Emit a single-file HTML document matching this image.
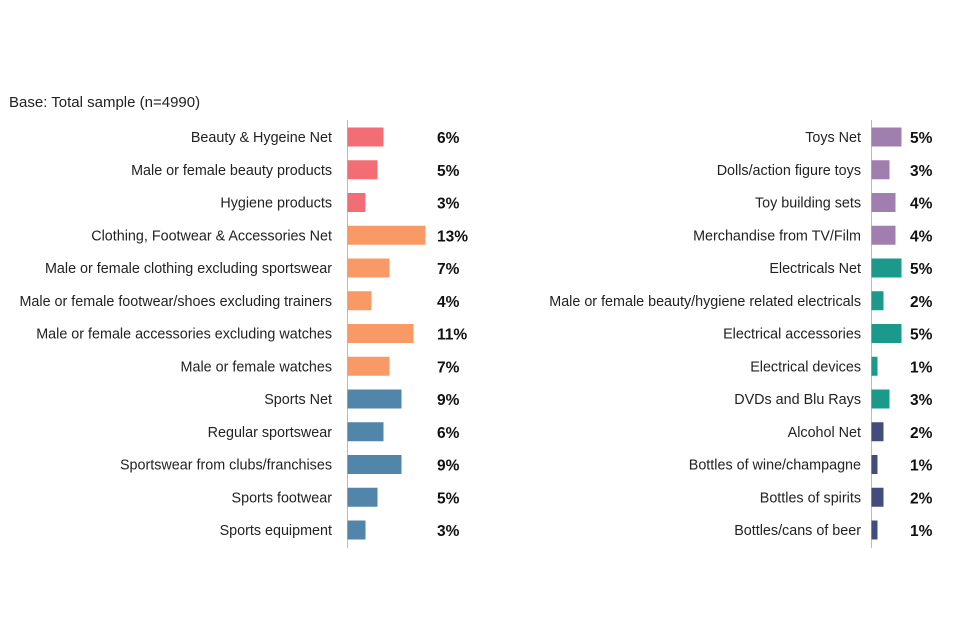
<!DOCTYPE html>
<html><head><meta charset="utf-8"><style>
body{margin:0;background:#fff;font-family:"Liberation Sans",Arial,sans-serif}
svg{display:block}
.lbl{font-size:14.35px;fill:#222}
.val{font-size:15.5px;font-weight:bold;fill:#111}
</style></head><body>
<svg id="chart" width="960" height="640">
<text x="9" y="107" font-size="15" fill="#222">Base: Total sample (n=4990)</text>
<line x1="347.5" y1="120" x2="347.5" y2="548" stroke="#bbb"/>
<line x1="871.5" y1="120" x2="871.5" y2="548" stroke="#bbb"/>
<g id="bars"></g>
</svg>
<script>
const leftCategories=["Beauty & Hygeine Net","Male or female beauty products","Hygiene products","Clothing, Footwear & Accessories Net","Male or female clothing excluding sportswear","Male or female footwear/shoes excluding trainers","Male or female accessories excluding watches","Male or female watches","Sports Net","Regular sportswear","Sportswear from clubs/franchises","Sports footwear","Sports equipment"];
const leftValues=[6,5,3,13,7,4,11,7,9,6,9,5,3];
const leftGroups=["beauty","beauty","beauty","clothing","clothing","clothing","clothing","clothing","sports","sports","sports","sports","sports"];
const rightCategories=["Toys Net","Dolls/action figure toys","Toy building sets","Merchandise from TV/Film","Electricals Net","Male or female beauty/hygiene related electricals","Electrical accessories","Electrical devices","DVDs and Blu Rays","Alcohol Net","Bottles of wine/champagne","Bottles of spirits","Bottles/cans of beer"];
const rightValues=[5,3,4,4,5,2,5,1,3,2,1,2,1];
const rightGroups=["toys","toys","toys","toys","elec","elec","elec","elec","elec","alcohol","alcohol","alcohol","alcohol"];
const colors={beauty:"#f26d74",clothing:"#f99a66",sports:"#5185a9",toys:"#a07fae",elec:"#1b9a8c",alcohol:"#434d7c"};
const NS="http://www.w3.org/2000/svg";
const g=document.getElementById("bars");
const yPos=i=>137+i*32.75;
const xLen=v=>v*6;
function panel(cats,vals,groups,axisX,side){
  cats.forEach((c,i)=>{
    const y=yPos(i);
    const t=document.createElementNS(NS,"text");
    t.setAttribute("x",side==="left"?axisX-15:axisX-10);t.setAttribute("y",y+5);t.setAttribute("text-anchor","end");t.setAttribute("class","lbl");t.textContent=c;
    
    
    g.appendChild(t);
    const r=document.createElementNS(NS,"rect");
    r.setAttribute("x",axisX+0.5);r.setAttribute("y",y-9.5);r.setAttribute("width",xLen(vals[i]));r.setAttribute("height",19);r.setAttribute("fill",colors[groups[i]]);
    
    
    g.appendChild(r);
    const v=document.createElementNS(NS,"text");
    v.setAttribute("x",side==="left"?437:910);v.setAttribute("y",y+6);v.setAttribute("class","val");v.textContent=vals[i]+"%";
    
    
    g.appendChild(v);
  });
}
panel(leftCategories,leftValues,leftGroups,347,"left");
panel(rightCategories,rightValues,rightGroups,871,"right");
</script>
</body></html>
